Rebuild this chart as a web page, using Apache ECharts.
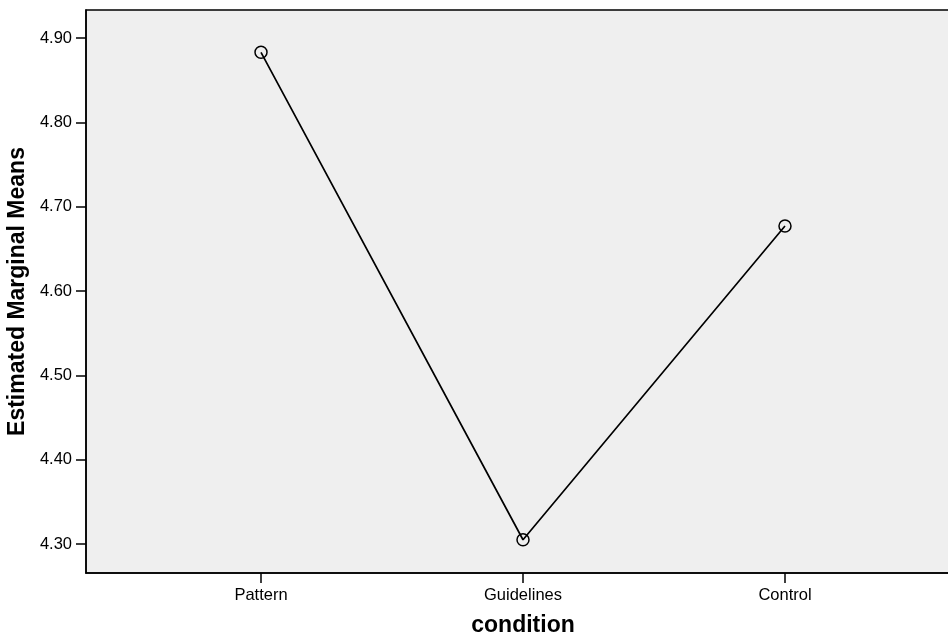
<!DOCTYPE html>
<html><head><meta charset="utf-8">
<script src="https://cdn.jsdelivr.net/npm/echarts@6/dist/echarts.min.js"></script>
<style>html,body{margin:0;padding:0;background:#fff}#c{width:948px;height:637px}</style>
</head><body><div id="c"></div>
<script>
const categories = ['Pattern', 'Guidelines', 'Control'];
const means = [4.883, 4.305, 4.677];
const yTicks = [4.30, 4.40, 4.50, 4.60, 4.70, 4.80, 4.90];

const chart = echarts.init(document.getElementById('c'), null, {renderer: 'canvas'});
const font = 'Arial, "Liberation Sans", sans-serif';
chart.setOption({
  animation: false,
  grid: {left: 86, top: 10, width: 874, height: 563, show: true, outerBoundsMode: 'none', containLabel: false,
    backgroundColor: '#efefef', borderColor: '#000', borderWidth: 1.5},
  xAxis: {
    type: 'value', min: -0.668, max: 2.668,
    name: 'condition', nameLocation: 'middle', nameGap: 41,
    nameTextStyle: {fontFamily: font, fontWeight: 'bold', fontSize: 23, color: '#000'},
    axisLine: {show: true, onZero: false, lineStyle: {color: '#000', width: 1.5}},
    axisTick: {show: true, length: 10, customValues: categories.map((c, i) => i), lineStyle: {color: '#000', width: 1.5}},
    axisLabel: {customValues: categories.map((c, i) => i), formatter: v => categories[Math.round(v)],
      margin: 14, fontFamily: font, fontSize: 16.5, color: '#000'},
    splitLine: {show: false}
  },
  yAxis: {
    type: 'value', min: 4.2656, max: 4.9332,
    name: 'Estimated Marginal Means', nameLocation: 'middle', nameGap: 48,
    nameTextStyle: {fontFamily: font, fontWeight: 'bold', fontSize: 23, color: '#000'},
    axisLine: {show: true, onZero: false, lineStyle: {color: '#000', width: 1.5}},
    axisTick: {show: true, length: 10, customValues: yTicks, lineStyle: {color: '#000', width: 1.5}},
    axisLabel: {customValues: yTicks, formatter: v => v.toFixed(2), margin: 14,
      fontFamily: font, fontSize: 16.5, color: '#000'},
    splitLine: {show: false}
  },
  series: [{
    type: 'line',
    data: means.map((m, i) => [i, m]),
    symbol: 'circle', symbolSize: 12,
    itemStyle: {color: 'rgba(0,0,0,0)', borderColor: '#000', borderWidth: 1.5},
    lineStyle: {color: '#000', width: 1.7}
  }]
});
</script></body></html>
